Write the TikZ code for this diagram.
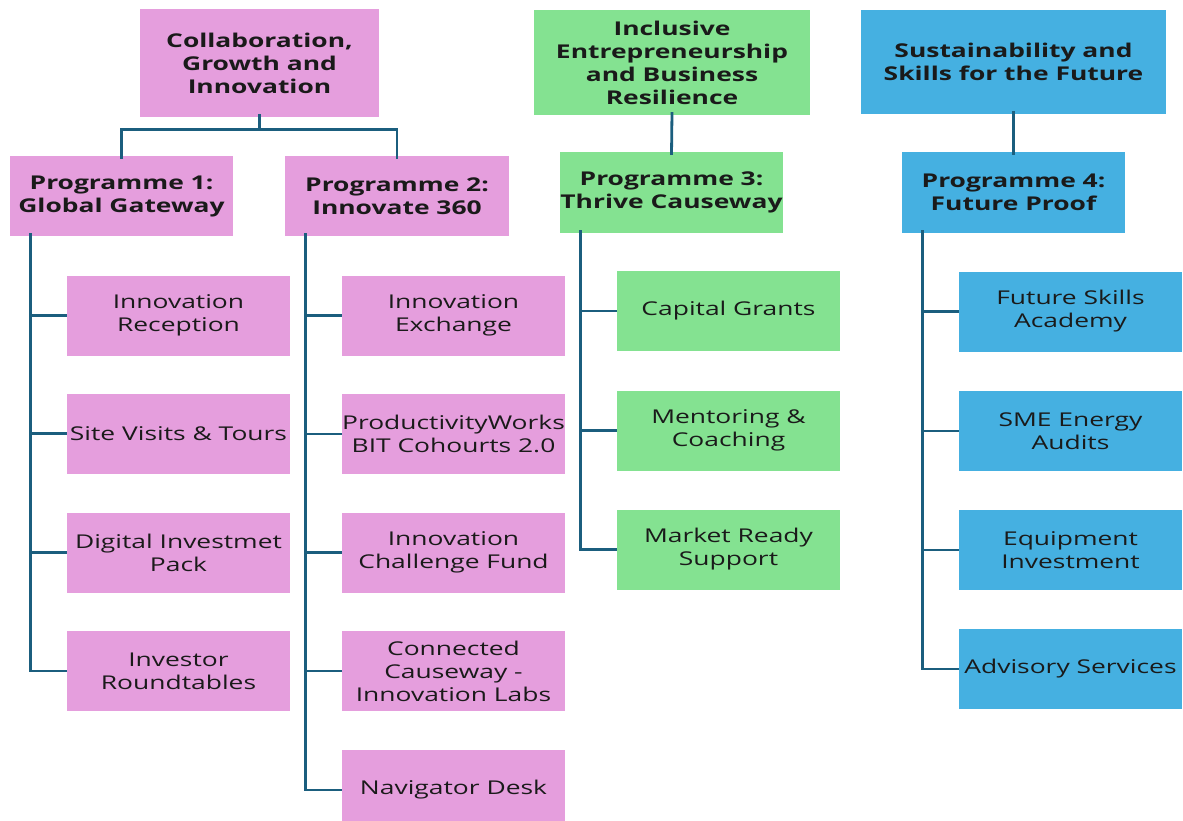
\documentclass[tikz,border=0pt]{standalone}
\usepackage{fontspec}
\setmainfont{Open Sans}[FakeStretch=1.39]
\definecolor{pinkbox}{HTML}{E59EDD}
\definecolor{greenbox}{HTML}{84E291}
\definecolor{bluebox}{HTML}{45B0E1}
\definecolor{linec}{HTML}{1B5E7E}
\definecolor{txt}{HTML}{1A1A1A}
\tikzset{
  box/.style={draw=none, inner sep=0pt, align=center, text=txt, minimum width=223pt, minimum height=80pt,
    font=\fontsize{19}{23}\selectfont},
  hbox/.style={box, font=\fontsize{19}{23}\selectfont\bfseries},
  conn/.style={draw=linec, line width=2.8pt},
}
\begin{document}
\begin{tikzpicture}[x=1pt,y=-1pt]
\clip (0,0) rectangle (1183,820);
\fill[white] (0,0) rectangle (1183,820);
% top boxes
\node[hbox, fill=pinkbox, minimum width=239pt, minimum height=108pt] (t1) at (259.5,63) {Collaboration,\\Growth and\\Innovation};
\node[hbox, fill=greenbox, minimum width=276pt, minimum height=105pt] (t3) at (672,62.5) {Inclusive\\Entrepreneurship\\and Business\\Resilience};
\node[hbox, fill=bluebox, minimum width=305pt, minimum height=104pt] (t4) at (1013.5,62) {Sustainability and\\Skills for the Future};
% programme boxes
\node[hbox, fill=pinkbox, minimum width=223pt] (p1) at (121.5,196) {Programme 1:\\Global Gateway};
\node[hbox, fill=pinkbox, minimum width=224pt] (p2) at (397,196) {Programme 2:\\Innovate 360};
\node[hbox, fill=greenbox, minimum height=81pt] (p3) at (671.5,192.5) {Programme 3:\\Thrive Causeway};
\node[hbox, fill=bluebox, minimum height=81pt] (p4) at (1013.5,192.5) {Programme 4:\\Future Proof};
% programme 1 children
\node[box, fill=pinkbox] (c11) at (178.5,315.5) {Innovation\\Reception};
\node[box, fill=pinkbox] (c12) at (178.5,433.5) {Site Visits \& Tours};
\node[box, fill=pinkbox] (c13) at (178.5,552.5) {Digital Investmet\\Pack};
\node[box, fill=pinkbox] (c14) at (178.5,671) {Investor\\Roundtables};
% programme 2 children
\node[box, fill=pinkbox] (c21) at (453.5,315.5) {Innovation\\Exchange};
\node[box, fill=pinkbox] (c22) at (453.5,434) {ProductivityWorks\\BIT Cohourts 2.0};
\node[box, fill=pinkbox] (c23) at (453.5,552.5) {Innovation\\Challenge Fund};
\node[box, fill=pinkbox] (c24) at (453.5,671) {Connected\\Causeway -\\Innovation Labs};
\node[box, fill=pinkbox] (c25) at (453.5,790) {Navigator Desk};
% programme 3 children
\node[box, fill=greenbox] (c31) at (728.5,311) {Capital Grants};
\node[box, fill=greenbox] (c32) at (728.5,430.5) {Mentoring \&\\Coaching};
\node[box, fill=greenbox] (c33) at (728.5,549.5) {Market Ready\\Support};
% programme 4 children
\node[box, fill=bluebox] (c41) at (1070.5,311.5) {Future Skills\\Academy};
\node[box, fill=bluebox] (c42) at (1070.5,431) {SME Energy\\Audits};
\node[box, fill=bluebox] (c43) at (1070.5,550) {Equipment\\Investment};
\node[box, fill=bluebox] (c44) at (1070.5,669) {Advisory Services};
% top connectors
\draw[conn] ([yshift=3pt]t1.south) -- ++(0,15) coordinate (j1) -| ([yshift=-3pt]p1.north);
\draw[conn] (j1) -| ([yshift=-3pt]p2.north);
\draw[conn] ([yshift=3pt]t3.south) -- ([yshift=-3pt]p3.north);
\draw[conn] ([yshift=3pt]t4.south) -- ([yshift=-3pt]p4.north);
% trees
\foreach \c in {c11,c12,c13,c14} \draw[conn] ([xshift=21pt,yshift=3pt]p1.south west) |- (\c.west);
\foreach \c in {c21,c22,c23,c24,c25} \draw[conn] ([xshift=21pt,yshift=3pt]p2.south west) |- (\c.west);
\foreach \c in {c31,c32,c33} \draw[conn] ([xshift=21pt,yshift=3pt]p3.south west) |- (\c.west);
\foreach \c in {c41,c42,c43,c44} \draw[conn] ([xshift=21pt,yshift=3pt]p4.south west) |- (\c.west);
\end{tikzpicture}
\end{document}
